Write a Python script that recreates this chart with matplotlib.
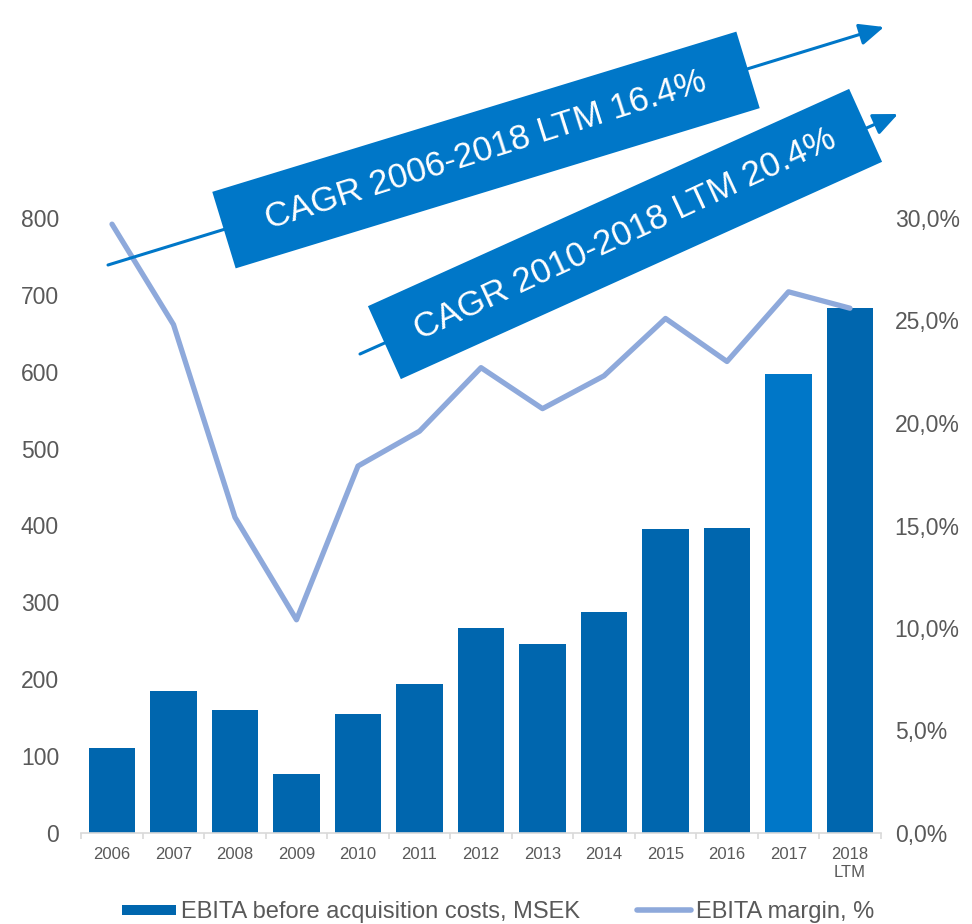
import numpy as np
import matplotlib
matplotlib.use("Agg")
import matplotlib.pyplot as plt
from matplotlib.patches import Polygon, FancyArrowPatch
from matplotlib.lines import Line2D
from matplotlib.ticker import FuncFormatter, FixedLocator
from matplotlib.transforms import Affine2D

plt.rcParams['font.family'] = ['Liberation Sans', 'DejaVu Sans']

# Data
years = ['2006', '2007', '2008', '2009', '2010', '2011', '2012',
         '2013', '2014', '2015', '2016', '2017', '2018\nLTM']
ebita = [110, 185, 160, 77, 155, 194, 267, 246, 287, 395, 397, 597, 683]
margin = [29.7, 24.8, 15.4, 10.4, 17.9, 19.6, 22.7, 20.7, 22.3, 25.1, 23.0, 26.4, 25.6]
cagr_labels = ['CAGR 2006-2018 LTM 16.4%', 'CAGR 2010-2018 LTM 20.4%']

# Colours
bar_col = '#0066AE'
bar_hi = '#0077C8'
line_col = '#8EA9DB'
txt_col = '#595959'
axis_col = '#D9D9D9'

W, H = 972, 924
fig = plt.figure(figsize=(W / 100, H / 100), dpi=100)
ax = fig.add_axes([81.25 / W, 1 - 833 / H, 799.5 / W, 615 / H])

x = np.arange(len(years))
colors = [bar_col] * len(years)
colors[11] = bar_hi
ax.bar(x, ebita, width=0.76, color=colors, zorder=2)
ax.set_xlim(-0.5, len(years) - 0.5)
ax.set_ylim(0, 800)
ax.set_yticks(range(0, 801, 100))

for s in ['left', 'right', 'top']:
    ax.spines[s].set_visible(False)
ax.spines['bottom'].set_color(axis_col)
ax.spines['bottom'].set_linewidth(1.2)

ax.set_xticks(x)
ax.set_xticklabels(years, fontsize=12, color=txt_col, linespacing=1.3)
ax.xaxis.set_minor_locator(FixedLocator(np.arange(-0.5, len(years), 1)))
ax.tick_params(axis='x', which='major', length=0, pad=10)
ax.tick_params(axis='x', which='minor', length=4, color=axis_col, width=1.2)
ax.tick_params(axis='y', length=0, labelsize=16.5, labelcolor=txt_col, pad=16)

ax2 = ax.twinx()
ax2.plot(x, margin, color=line_col, lw=3.8, solid_capstyle='round',
         solid_joinstyle='round', zorder=3)
ax2.set_ylim(0, 30)
ax2.set_yticks(np.arange(0, 30.1, 5))
ax2.yaxis.set_major_formatter(FuncFormatter(lambda v, p: f'{v:.1f}%'.replace('.', ',')))
for s in ['left', 'right', 'top', 'bottom']:
    ax2.spines[s].set_visible(False)
ax2.tick_params(axis='y', length=0, labelsize=16.5, labelcolor=txt_col, pad=10)

# Annotations in pixel coordinates (y measured from top)
T = Affine2D().scale(1, -1).translate(0, H)

arrows = [((108, 265), (884, 27)), ((360, 354), (898, 114))]
for (a, b) in arrows:
    fig.add_artist(FancyArrowPatch(a, b, transform=T,
                                   arrowstyle='-|>,head_length=0.5,head_width=0.22',
                                   mutation_scale=30, lw=2.2, color=bar_hi,
                                   shrinkA=0, shrinkB=0, zorder=5))

banners = [((486, 150), 548, 80, 17.0), ((625, 234), 528, 80, 24.3)]
for (c, w, h, ang), label in zip(banners, cagr_labels):
    t = np.deg2rad(ang)
    u = np.array([np.cos(t), -np.sin(t)])
    v = np.array([np.sin(t), np.cos(t)])
    c = np.array(c)
    pts = [c - w / 2 * u - h / 2 * v, c + w / 2 * u - h / 2 * v,
           c + w / 2 * u + h / 2 * v, c - w / 2 * u + h / 2 * v]
    fig.add_artist(Polygon(pts, closed=True, transform=T, fc=bar_hi, ec='none', zorder=6))
    fig.text(c[0], c[1], label, transform=T, rotation=ang + 0.6, rotation_mode='anchor',
             ha='center', va='center', color='white', fontsize=25, zorder=7)

# Legend
handles = [Line2D([], [], color=bar_col, lw=7.2, solid_capstyle='butt'),
           Line2D([], [], color=line_col, lw=4, solid_capstyle='round')]
fig.legend(handles, ['EBITA before acquisition costs, MSEK', 'EBITA margin, %'],
           loc='center', bbox_to_anchor=(498 / W, 1 - 912 / H), ncol=2, frameon=False,
           fontsize=17, labelcolor=txt_col, handlelength=2.3, handletextpad=0.2,
           columnspacing=2.4, borderpad=0, borderaxespad=0)

fig.savefig('out.png', dpi=100)
